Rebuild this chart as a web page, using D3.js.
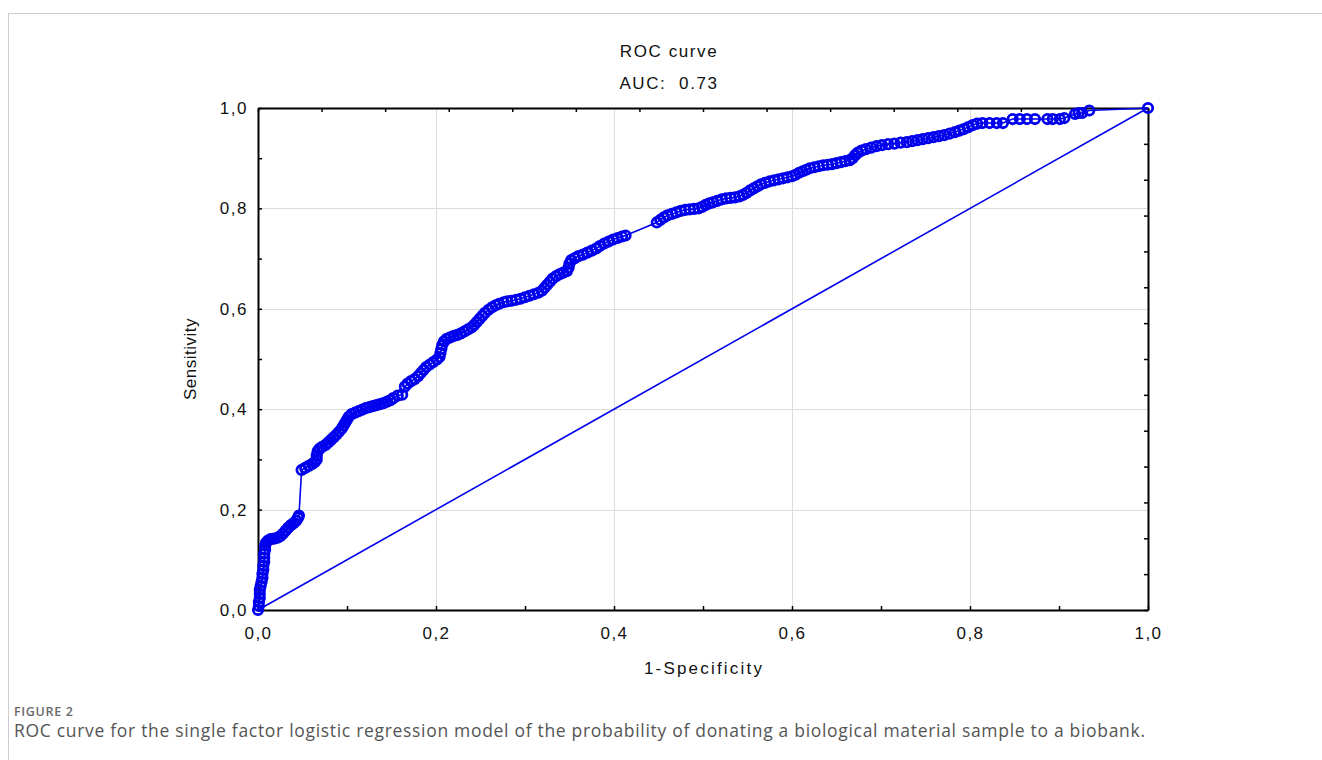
<!DOCTYPE html>
<html>
<head>
<meta charset="utf-8">
<script src="https://cdn.jsdelivr.net/npm/d3@7"></script>
<style>
  body { margin: 0; background: #fff; }
  svg { display: block; }
</style>
</head>
<body>
<div id="chart"></div>
<script>
// ROC points: [1 - specificity, sensitivity]
const rocPoints = [
  [0, 0], [0.001, 0.008], [0.001, 0.016], [0.002, 0.024], [0.002, 0.032], [0.002, 0.04],
  [0.003, 0.048], [0.004, 0.056], [0.005, 0.064], [0.005, 0.072], [0.006, 0.08], [0.006, 0.088],
  [0.007, 0.096], [0.007, 0.104], [0.007, 0.112], [0.008, 0.12], [0.008, 0.128], [0.009, 0.134],
  [0.011, 0.138], [0.014, 0.141], [0.018, 0.142], [0.022, 0.144], [0.025, 0.147], [0.028, 0.152],
  [0.031, 0.158], [0.034, 0.164], [0.037, 0.169], [0.040, 0.173], [0.043, 0.178], [0.045, 0.184],
  [0.046, 0.188],
  [0.049, 0.279], [0.053, 0.283], [0.057, 0.287], [0.061, 0.291], [0.064, 0.295], [0.066, 0.300],
  [0.066, 0.308], [0.067, 0.316], [0.069, 0.321], [0.072, 0.325], [0.076, 0.329], [0.079, 0.334],
  [0.082, 0.339], [0.085, 0.344], [0.088, 0.349], [0.091, 0.355], [0.094, 0.361], [0.096, 0.367],
  [0.098, 0.373], [0.100, 0.379], [0.102, 0.385], [0.105, 0.39], [0.109, 0.393], [0.113, 0.396],
  [0.117, 0.399], [0.121, 0.402], [0.125, 0.404], [0.129, 0.406], [0.133, 0.408], [0.137, 0.41],
  [0.141, 0.412], [0.145, 0.415], [0.149, 0.418], [0.152, 0.422],
  [0.157, 0.427], [0.162, 0.429],
  [0.165, 0.445], [0.168, 0.451], [0.172, 0.456], [0.176, 0.460], [0.180, 0.466], [0.183, 0.472],
  [0.186, 0.478], [0.189, 0.484], [0.193, 0.489], [0.197, 0.494], [0.201, 0.499], [0.204, 0.504],
  [0.205, 0.512], [0.206, 0.52], [0.207, 0.528], [0.209, 0.535], [0.212, 0.54], [0.216, 0.543],
  [0.220, 0.546], [0.224, 0.548], [0.228, 0.551], [0.232, 0.555], [0.236, 0.559], [0.240, 0.563],
  [0.243, 0.568], [0.246, 0.574], [0.249, 0.58], [0.252, 0.586], [0.255, 0.592], [0.259, 0.598],
  [0.263, 0.603], [0.267, 0.607], [0.271, 0.610], [0.276, 0.613], [0.280, 0.615], [0.285, 0.616],
  [0.290, 0.618], [0.295, 0.62], [0.300, 0.623], [0.305, 0.626], [0.310, 0.629], [0.315, 0.632],
  [0.319, 0.636], [0.322, 0.642], [0.325, 0.648], [0.328, 0.654], [0.331, 0.66], [0.335, 0.665],
  [0.339, 0.669], [0.343, 0.672], [0.347, 0.675], [0.349, 0.682], [0.350, 0.69], [0.352, 0.697],
  [0.356, 0.701], [0.360, 0.705], [0.365, 0.708], [0.370, 0.712], [0.375, 0.716], [0.380, 0.72],
  [0.384, 0.725], [0.389, 0.73], [0.394, 0.734], [0.399, 0.738], [0.404, 0.741], [0.409, 0.744],
  [0.413, 0.746],
  [0.448, 0.772], [0.452, 0.777], [0.456, 0.782], [0.460, 0.786], [0.465, 0.789], [0.470, 0.792],
  [0.475, 0.795], [0.480, 0.797], [0.485, 0.798], [0.490, 0.799], [0.495, 0.800], [0.499, 0.803],
  [0.503, 0.807], [0.507, 0.81], [0.511, 0.812], [0.516, 0.815], [0.521, 0.818], [0.526, 0.82],
  [0.531, 0.821], [0.536, 0.822], [0.541, 0.824], [0.545, 0.827], [0.549, 0.831], [0.553, 0.836],
  [0.557, 0.84], [0.561, 0.844], [0.565, 0.848], [0.570, 0.851], [0.575, 0.854], [0.580, 0.856],
  [0.585, 0.858], [0.590, 0.86], [0.595, 0.862], [0.600, 0.864], [0.604, 0.867], [0.608, 0.871],
  [0.612, 0.874], [0.616, 0.877], [0.620, 0.88], [0.625, 0.882], [0.630, 0.884], [0.635, 0.886],
  [0.640, 0.887], [0.645, 0.888], [0.650, 0.89], [0.655, 0.892], [0.660, 0.894], [0.665, 0.896],
  [0.668, 0.9], [0.671, 0.906], [0.674, 0.911], [0.678, 0.915], [0.683, 0.918], [0.689, 0.921],
  [0.695, 0.924], [0.701, 0.926], [0.708, 0.928], [0.715, 0.929], [0.722, 0.931], [0.729, 0.932],
  [0.735, 0.934], [0.741, 0.936], [0.747, 0.938], [0.753, 0.94], [0.759, 0.942], [0.765, 0.944],
  [0.771, 0.946], [0.777, 0.949], [0.783, 0.952], [0.788, 0.955], [0.793, 0.958], [0.798, 0.962],
  [0.803, 0.966], [0.808, 0.969], [0.814, 0.970], [0.822, 0.970], [0.830, 0.970], [0.837, 0.970],
  [0.848, 0.978], [0.856, 0.978], [0.864, 0.978], [0.873, 0.978], [0.887, 0.978], [0.893, 0.978],
  [0.901, 0.978], [0.906, 0.98], [0.918, 0.988], [0.922, 0.99], [0.926, 0.99], [0.934, 0.995],
  [1, 1]
];

// chance line
const diagonal = [[0, 0], [1, 1]];

const majorTicks = [0, 0.2, 0.4, 0.6, 0.8, 1.0];
const minorTicks = [0, 0.1, 0.2, 0.3, 0.4, 0.5, 0.6, 0.7, 0.8, 0.9, 1.0];
const gridValues = [0.2, 0.4, 0.6, 0.8];
const secondaryTickCount = 14;

const titleText = "ROC curve";
const aucText = "AUC:  0.73";
const xTitle = "1-Specificity";
const yTitle = "Sensitivity";
const figureLabel = "FIGURE 2";
const captionText = "ROC curve for the single factor logistic regression model of the probability of donating a biological material sample to a biobank.";

const width = 1322;
const height = 760;
const blue = "#0000ee";
const fontFamily = "Arial, 'Liberation Sans', sans-serif";
const captionFont = "'Open Sans', 'Noto Sans', sans-serif";

const svg = d3.select("#chart").append("svg")
  .attr("width", width)
  .attr("height", height);

// card border
svg.append("rect")
  .attr("x", 8.5)
  .attr("y", 13.5)
  .attr("width", 1400)
  .attr("height", 900)
  .attr("fill", "none")
  .attr("stroke", "#cccccc");

const x = d3.scaleLinear().domain([0, 1]).range([258, 1148]);
const y = d3.scaleLinear().domain([0, 1]).range([610, 108]);

const commaFmt = d => d3.format(".1f")(d).replace(".", ",");
const isMajor = d => majorTicks.some(m => Math.abs(m - d) < 1e-9);

// grid
const grid = svg.append("g").attr("stroke", "#dcdcdc").attr("stroke-width", 1);
grid.selectAll(".vgrid")
  .data(gridValues)
  .enter().append("line")
  .attr("x1", d => Math.round(x(d)) + 0.5)
  .attr("x2", d => Math.round(x(d)) + 0.5)
  .attr("y1", y(1))
  .attr("y2", y(0));
grid.selectAll(".hgrid")
  .data(gridValues)
  .enter().append("line")
  .attr("y1", d => Math.round(y(d)) + 0.5)
  .attr("y2", d => Math.round(y(d)) + 0.5)
  .attr("x1", x(0))
  .attr("x2", x(1));

// secondary (top / right) axes, no labels
const secTicks = d3.range(secondaryTickCount + 1).map(i => i / secondaryTickCount);

const topAxis = svg.append("g")
  .attr("transform", `translate(0,${y(1)})`)
  .call(d3.axisTop(x).tickValues(secTicks).tickSize(-4).tickSizeOuter(0).tickFormat(""));

const rightAxis = svg.append("g")
  .attr("transform", `translate(${x(1)},0)`)
  .call(d3.axisRight(y).tickValues(secTicks).tickSize(-4).tickSizeOuter(0).tickFormat(""));

// primary axes
const bottomAxis = svg.append("g")
  .attr("transform", `translate(0,${y(0)})`)
  .call(d3.axisBottom(x).tickValues(minorTicks).tickSize(-4).tickSizeOuter(0).tickPadding(17)
    .tickFormat(d => isMajor(d) ? commaFmt(d) : ""));

const leftAxis = svg.append("g")
  .attr("transform", `translate(${x(0)},0)`)
  .call(d3.axisLeft(y).tickValues(minorTicks).tickSize(-4).tickSizeOuter(0).tickPadding(10)
    .tickFormat(d => isMajor(d) ? commaFmt(d) : ""));

[topAxis, rightAxis, bottomAxis, leftAxis].forEach(a => {
  a.select(".domain").attr("stroke", "#000").attr("stroke-width", 2);
  a.selectAll(".tick line").attr("stroke", "#000").attr("stroke-width", 1.5);
  a.selectAll(".tick text")
    .attr("fill", "#111")
    .style("font-family", fontFamily)
    .style("font-size", "17px")
    .style("letter-spacing", "1.5px");
});

const line = d3.line().x(d => x(d[0])).y(d => y(d[1]));

// chance diagonal
svg.append("path")
  .datum(diagonal)
  .attr("d", line)
  .attr("fill", "none")
  .attr("stroke", blue)
  .attr("stroke-width", 1.6);

// ROC curve line + open circle markers
svg.append("path")
  .datum(rocPoints)
  .attr("d", line)
  .attr("fill", "none")
  .attr("stroke", blue)
  .attr("stroke-width", 1.6);

svg.append("g")
  .selectAll("circle")
  .data(rocPoints)
  .enter().append("circle")
  .attr("cx", d => x(d[0]))
  .attr("cy", d => y(d[1]))
  .attr("r", 4.7)
  .attr("fill", "none")
  .attr("stroke", blue)
  .attr("stroke-width", 2.8);

// titles
const addText = (tx, ty, txt, spacing) => svg.append("text")
  .attr("x", tx)
  .attr("y", ty)
  .attr("text-anchor", "middle")
  .style("font-family", fontFamily)
  .style("font-size", "17px")
  .style("letter-spacing", spacing)
  .style("white-space", "pre")
  .attr("fill", "#111")
  .text(txt);

addText(669, 57, titleText, "1.6px");
addText(669, 89, aucText, "1.6px");
addText((x(0) + x(1)) / 2 + 1, 674, xTitle, "2.2px");

svg.append("text")
  .attr("transform", `translate(196,${(y(0) + y(1)) / 2}) rotate(-90)`)
  .attr("text-anchor", "middle")
  .style("font-family", fontFamily)
  .style("font-size", "17px")
  .style("letter-spacing", "0.5px")
  .attr("fill", "#111")
  .text(yTitle);

// caption
svg.append("text")
  .attr("x", 14)
  .attr("y", 716)
  .attr("textLength", 59)
  .attr("lengthAdjust", "spacing")
  .style("font-family", captionFont)
  .style("font-size", "12.5px")
  .style("font-weight", 600)
  .attr("fill", "#6a6a6a")
  .text(figureLabel);

svg.append("text")
  .attr("x", 14)
  .attr("y", 737)
  .attr("textLength", 1131)
  .attr("lengthAdjust", "spacing")
  .style("font-family", captionFont)
  .style("font-size", "17.5px")
  .attr("fill", "#555")
  .text(captionText);
</script>
</body>
</html>
